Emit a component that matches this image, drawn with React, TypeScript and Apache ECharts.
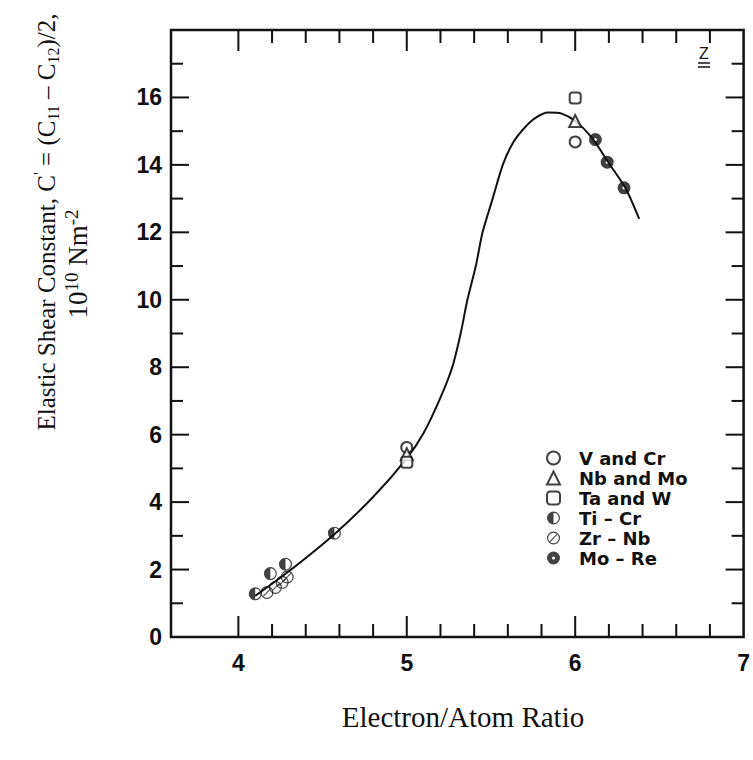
import React, { useEffect, useRef } from "react";
import * as echarts from "echarts";

// ---- data ----
const vCr = [[5.0, 5.62], [6.0, 14.68]];
const nbMo = [[5.0, 5.42], [6.0, 15.3]];
const taW = [[5.0, 5.18], [6.0, 15.98]];
const tiCr = [[4.1, 1.28], [4.19, 1.88], [4.28, 2.16], [4.57, 3.08]];
const zrNb = [[4.17, 1.32], [4.22, 1.47], [4.26, 1.62], [4.29, 1.78]];
const moRe = [[6.12, 14.75], [6.19, 14.08], [6.29, 13.32]];
const curve = [
  [4.1, 1.22], [4.3, 1.95], [4.57, 3.05], [4.8, 4.15], [5.0, 5.3], [5.1, 6.05],
  [5.2, 7.1], [5.27, 8.0], [5.32, 9.0], [5.36, 10.0], [5.41, 11.0], [5.45, 12.0],
  [5.51, 13.0], [5.57, 14.0], [5.63, 14.65], [5.69, 15.05], [5.76, 15.38],
  [5.84, 15.55], [5.92, 15.52], [6.0, 15.3], [6.1, 14.8], [6.2, 14.05], [6.3, 13.3], [6.38, 12.4],
];
const xMajorTicks = [4, 5, 6];
const xMinorTicks = [4.2, 4.4, 4.6, 4.8, 5.2, 5.4, 5.6, 5.8, 6.2, 6.4, 6.6, 6.8];
const yMajorTicks = [2, 4, 6, 8, 10, 12, 14, 16];
const yMinorTicks = [1, 3, 5, 7, 9, 11, 13, 15, 17];
const seriesNames = ["V and Cr", "Nb and Mo", "Ta and W", "Ti – Cr", "Zr – Nb", "Mo – Re"];

const X_MIN = 3.6, X_MAX = 7, Y_MIN = 0, Y_MAX = 18;

const halfCircle =
  "path://M10,0 A10,10 0 1,1 10,20 A10,10 0 1,1 10,0 Z M10,1.8 A8.2,8.2 0 1,0 10,18.2 A8.2,8.2 0 1,0 10,1.8 Z M10,1.8 A8.2,8.2 0 0,0 10,18.2 Z";
const slashCircle =
  "path://M10,0 A10,10 0 1,1 10,20 A10,10 0 1,1 10,0 Z M10,1.8 A8.2,8.2 0 1,0 10,18.2 A8.2,8.2 0 1,0 10,1.8 Z M3.93,14.93 L14.93,3.93 L16.07,5.07 L5.07,16.07 Z";
const dotCircle =
  "path://M10,0 A10,10 0 1,1 10,20 A10,10 0 1,1 10,0 Z M10,7.6 A2.4,2.4 0 1,0 10,12.4 A2.4,2.4 0 1,0 10,7.6 Z";

export default function App() {
  const ref = useRef<HTMLDivElement>(null);
  useEffect(() => {
    if (!ref.current) return;
    const chart = echarts.init(ref.current, null, { renderer: "svg" });
    const open = { color: "#fff", borderColor: "#111", borderWidth: 2 };
    const filled = { color: "#111", borderWidth: 0 };
    const xTickData = [
      ...xMajorTicks.map((v) => [v, 0, 21]),
      ...xMinorTicks.map((v) => [v, 0, 13]),
    ];
    const yTickData = [
      ...yMajorTicks.map((v) => [X_MIN, v, 18]),
      ...yMinorTicks.map((v) => [X_MIN, v, 12]),
    ];
    chart.setOption({
      animation: false,
      backgroundColor: "#fff",
      grid: {
        left: 171, right: 6, top: 30, bottom: 123,
        show: true, borderColor: "#111", borderWidth: 2.5,
      },
      xAxis: {
        type: "value", min: X_MIN, max: X_MAX, interval: 0.2,
        axisLine: { show: false }, axisTick: { show: false }, splitLine: { show: false },
        axisLabel: {
          margin: 14, color: "#111", fontSize: 23, fontWeight: "bold",
          fontFamily: "Liberation Sans, Arial, sans-serif",
          formatter: (v: number) => (Math.abs(v - Math.round(v)) < 1e-6 && Math.round(v) >= 4 ? String(Math.round(v)) : ""),
        },
      },
      yAxis: {
        type: "value", min: Y_MIN, max: Y_MAX, interval: 1,
        axisLine: { show: false }, axisTick: { show: false }, splitLine: { show: false },
        axisLabel: {
          margin: 9, color: "#111", fontSize: 23, fontWeight: "bold",
          fontFamily: "Liberation Sans, Arial, sans-serif",
          formatter: (v: number) => {
            const r = Math.round(v);
            return r % 2 === 0 && r < 18 ? String(r) : "";
          },
        },
      },
      legend: {
        data: seriesNames,
        orient: "vertical",
        left: 541, top: 443,
        itemWidth: 13, itemHeight: 13, itemGap: 0,
        selectedMode: false,
        textStyle: {
          color: "#111", fontSize: 18, fontWeight: "bold", lineHeight: 20,
          fontFamily: "DejaVu Sans, sans-serif", padding: [0, 0, 0, 14],
        },
      },
      series: [
        {
          type: "line", data: curve, smooth: 0.25, showSymbol: false, symbol: "none",
          lineStyle: { color: "#111", width: 2 }, silent: true, z: 2,
        },
        { name: seriesNames[0], type: "scatter", data: vCr, symbol: "circle", symbolSize: 11, itemStyle: open, z: 3 },
        { name: seriesNames[1], type: "scatter", data: nbMo, symbol: "triangle", symbolSize: 12, itemStyle: open, z: 3 },
        { name: seriesNames[2], type: "scatter", data: taW, symbol: "roundRect", symbolSize: 11, itemStyle: open, z: 3 },
        { name: seriesNames[3], type: "scatter", data: tiCr, symbol: halfCircle, symbolSize: 13, itemStyle: filled, z: 3 },
        { name: seriesNames[4], type: "scatter", data: zrNb, symbol: slashCircle, symbolSize: 13, itemStyle: filled, z: 3 },
        { name: seriesNames[5], type: "scatter", data: moRe, symbol: dotCircle, symbolSize: 13, itemStyle: filled, z: 3 },
        {
          type: "custom", data: xTickData, silent: true, clip: false, z: 4,
          renderItem: (params: any, api: any) => {
            const x = api.value(0);
            const len = api.value(2);
            const b = api.coord([x, Y_MIN]);
            const t = api.coord([x, Y_MAX]);
            const st = { stroke: "#111", lineWidth: 2 };
            return {
              type: "group",
              children: [
                { type: "line", shape: { x1: b[0], y1: b[1], x2: b[0], y2: b[1] - len }, style: st },
                { type: "line", shape: { x1: t[0], y1: t[1], x2: t[0], y2: t[1] + len }, style: st },
              ],
            };
          },
        },
        {
          type: "custom", data: yTickData, silent: true, clip: false, z: 4,
          renderItem: (params: any, api: any) => {
            const y = api.value(1);
            const len = api.value(2);
            const l = api.coord([X_MIN, y]);
            const r = api.coord([X_MAX, y]);
            const st = { stroke: "#111", lineWidth: 2 };
            return {
              type: "group",
              children: [
                { type: "line", shape: { x1: l[0], y1: l[1], x2: l[0] + len, y2: l[1] }, style: st },
                { type: "line", shape: { x1: r[0], y1: r[1], x2: r[0] - len, y2: r[1] }, style: st },
              ],
            };
          },
        },
      ],
      graphic: [
        {
          type: "text", x: 46, y: 222, rotation: Math.PI / 2,
          style: {
            text: "{t|Elastic Shear Constant, C}{sup|'}{t| = (C}{sub|11}{t| – C}{sub|12}{t|)/2,}",
            align: "center", verticalAlign: "middle", fill: "#111",
            rich: {
              t: { fontSize: 25, fontFamily: "Liberation Serif, Times New Roman, serif", fill: "#111", lineHeight: 30 },
              sup: { fontSize: 16, fontFamily: "Liberation Serif, serif", fill: "#111", verticalAlign: "top" },
              sub: { fontSize: 16, fontFamily: "Liberation Serif, serif", fill: "#111", verticalAlign: "bottom" },
            },
          },
        },
        {
          type: "text", x: 78, y: 264, rotation: Math.PI / 2,
          style: {
            text: "{t|10}{sup|10}{t| Nm}{sup|-2}",
            align: "center", verticalAlign: "middle", fill: "#111",
            rich: {
              t: { fontSize: 27, fontFamily: "Liberation Serif, Times New Roman, serif", fill: "#111", lineHeight: 32 },
              sup: { fontSize: 19, fontFamily: "Liberation Serif, serif", fill: "#111", verticalAlign: "top" },
            },
          },
        },
        {
          type: "text", x: 463, y: 717,
          style: {
            text: "Electron/Atom Ratio", align: "center", verticalAlign: "middle",
            fontSize: 29, fontFamily: "Liberation Serif, Times New Roman, serif", fill: "#111",
          },
        },
        {
          type: "text", x: 704, y: 53,
          style: {
            text: "Z", align: "center", verticalAlign: "middle",
            fontSize: 16, fontFamily: "Liberation Sans, Arial, sans-serif", fill: "#111",
          },
        },
        { type: "line", shape: { x1: 698, y1: 63, x2: 710, y2: 63 }, style: { stroke: "#111", lineWidth: 1.5 } },
        { type: "line", shape: { x1: 698, y1: 67, x2: 710, y2: 67 }, style: { stroke: "#111", lineWidth: 1.5 } },
      ],
    });
    return () => chart.dispose();
  }, []);
  return <div ref={ref} style={{ position: "fixed", left: 0, top: 0, width: 753, height: 760 }} />;
}
